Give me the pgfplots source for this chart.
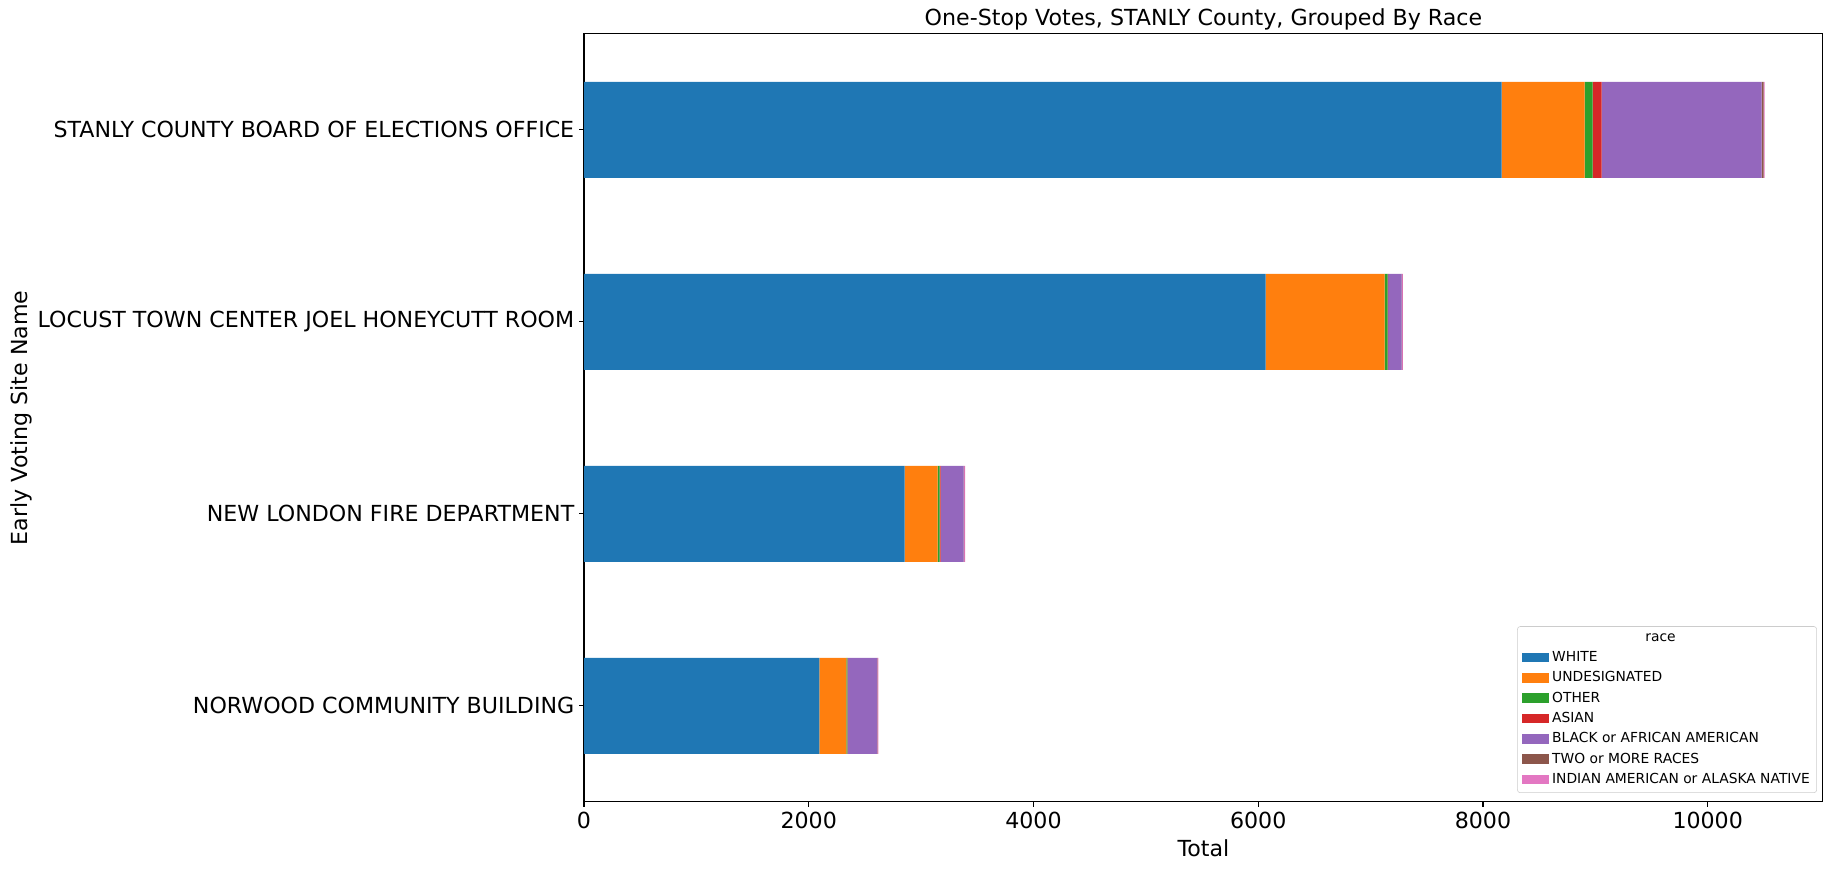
\documentclass[border=0pt]{standalone}
\usepackage{pgfplots}
\pgfplotsset{compat=1.18}
\usepackage{fontspec}
\setmainfont{DejaVu Sans}
\definecolor{c0}{HTML}{1F77B4}
\definecolor{c1}{HTML}{FF7F0E}
\definecolor{c2}{HTML}{2CA02C}
\definecolor{c3}{HTML}{D62728}
\definecolor{c4}{HTML}{9467BD}
\definecolor{c5}{HTML}{8C564B}
\definecolor{c6}{HTML}{E377C2}
\newcommand{\bigf}{\fontsize{16}{19}\selectfont}
\begin{document}
\begin{tikzpicture}
\useasboundingbox (-420.5bp,-48.2bp) rectangle (900bp,577.4bp);
\begin{axis}[
  at={(0,0)}, anchor=south west,
  scale only axis,
  width=892bp, height=553bp,
  xbar stacked,
  bar width=0.5,
  xmin=0, xmax=11025,
  ymin=-0.5, ymax=3.5,
  ytick={0,1,2,3},
  yticklabels={NORWOOD COMMUNITY BUILDING,NEW LONDON FIRE DEPARTMENT,LOCUST TOWN CENTER JOEL HONEYCUTT ROOM,STANLY COUNTY BOARD OF ELECTIONS OFFICE},
  xtick={0,2000,4000,6000,8000,10000},
  tick align=outside,
  xtick pos=bottom, ytick pos=left,
  major tick length=3.5bp,
  axis line style={line width=0.8bp},
  every tick/.style={black, line width=0.8bp},
  tick label style={font=\bigf},
  /pgf/number format/assume math mode=true,
  /pgf/number format/set thousands separator={},
  scaled x ticks=false,
  xlabel={Total},
  ylabel={Early Voting Site Name},
  label style={font=\bigf},
  xlabel style={yshift=-1.5bp},
  ylabel style={yshift=-3bp},
  title={One-Stop Votes, STANLY County, Grouped By Race},
  title style={font=\bigf, yshift=-7bp},
  legend cell align=left,
  legend style={
    at={(0.9952,0.0117)}, anchor=south east,
    font=\fontsize{10}{12}\selectfont,
    draw=black!20, rounded corners=2bp,
    row sep=1.8bp,
    inner xsep=3bp, inner ysep=3bp,
  },
]
\addlegendimage{empty legend}
\addlegendentry{\hspace*{78bp}\makebox[0pt][c]{race}}
\addplot[fill=c0, draw=none, legend image code/.code={\fill[c0, sharp corners] (0bp,-3.5bp) rectangle (20bp,3.5bp);}] coordinates {(2095,0) (2853,1) (6065,2) (8166,3)};
\addlegendentry{WHITE}
\addplot[fill=c1, draw=none, legend image code/.code={\fill[c1, sharp corners] (0bp,-3.5bp) rectangle (20bp,3.5bp);}] coordinates {(240,0) (294,1) (1059,2) (738,3)};
\addlegendentry{UNDESIGNATED}
\addplot[fill=c2, draw=none, legend image code/.code={\fill[c2, sharp corners] (0bp,-3.5bp) rectangle (20bp,3.5bp);}] coordinates {(8,0) (18,1) (28,2) (71,3)};
\addlegendentry{OTHER}
\addplot[fill=c3, draw=none, legend image code/.code={\fill[c3, sharp corners] (0bp,-3.5bp) rectangle (20bp,3.5bp);}] coordinates {(3,0) (8,1) (3,2) (80,3)};
\addlegendentry{ASIAN}
\addplot[fill=c4, draw=none, legend image code/.code={\fill[c4, sharp corners] (0bp,-3.5bp) rectangle (20bp,3.5bp);}] coordinates {(262,0) (205,1) (122,2) (1424,3)};
\addlegendentry{BLACK or AFRICAN AMERICAN}
\addplot[fill=c5, draw=none, legend image code/.code={\fill[c5, sharp corners] (0bp,-3.5bp) rectangle (20bp,3.5bp);}] coordinates {(3,0) (5,1) (3,2) (18,3)};
\addlegendentry{TWO or MORE RACES}
\addplot[fill=c6, draw=none, legend image code/.code={\fill[c6, sharp corners] (0bp,-3.5bp) rectangle (20bp,3.5bp);}] coordinates {(8,0) (9,1) (8,2) (9,3)};
\addlegendentry{INDIAN AMERICAN or ALASKA NATIVE}
\end{axis}
\end{tikzpicture}
\end{document}
